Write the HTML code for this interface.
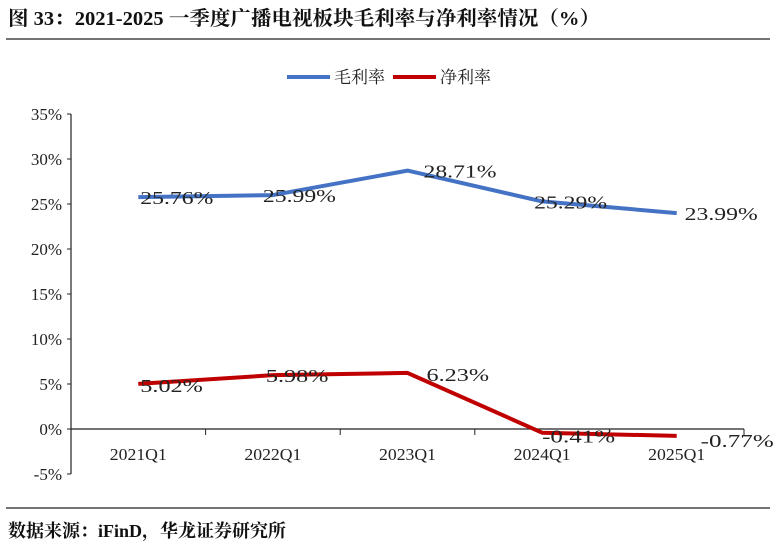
<!DOCTYPE html>
<html><head><meta charset="utf-8"><style>
body{margin:0;background:#fff;width:776px;height:548px;overflow:hidden}
svg{display:block}
.s{font-family:"Liberation Serif","Noto Serif CJK SC",serif}
</style></head><body>
<svg width="776" height="548">
<text class="s" x="8" y="25" font-size="20" font-weight="bold" fill="#111" textLength="592" lengthAdjust="spacingAndGlyphs">图 33：2021-2025 一季度广播电视板块毛利率与净利率情况（%）</text>
<line x1="6" y1="39" x2="770" y2="39" stroke="#222" stroke-width="1.2"/>
<g>
<line x1="287" y1="77" x2="330" y2="77" stroke="#4472C4" stroke-width="4"/>
<text class="s" x="334" y="83" font-size="17" fill="#222">毛利率</text>
<line x1="393" y1="77" x2="436" y2="77" stroke="#C00000" stroke-width="4"/>
<text class="s" x="440" y="83" font-size="17" fill="#222">净利率</text>
</g>
<g id="axes"></g>
<g id="plot"></g>
<line x1="6" y1="508" x2="770" y2="508" stroke="#222" stroke-width="1.2"/>
<text class="s" x="8" y="537" font-size="18" font-weight="bold" fill="#111">数据来源：iFinD，华龙证券研究所</text>
</svg>
<script>
const categories=["2021Q1","2022Q1","2023Q1","2024Q1","2025Q1"];
const grossMargin=[25.76,25.99,28.71,25.29,23.99];
const netMargin=[5.02,5.98,6.23,-0.41,-0.77];
const yTicks=[35,30,25,20,15,10,5,0,-5];
const grossLabelDx=[2,-10,16,-8,8];
const netLabelDx=[2,-7,19,0,24];
const netLabelDy=[1,0,1,3,4];
const NS="http://www.w3.org/2000/svg";
const x0=71,x1=744,yTop=114,yBot=474,yMin=-5,yMax=35;
const bw=(x1-x0)/categories.length;
const xs=i=>x0+bw*(i+0.5);
const ys=v=>yBot-(v-yMin)/(yMax-yMin)*(yBot-yTop);
function mk(t,a,p){const e=document.createElementNS(NS,t);for(const k in a)e.setAttribute(k,a[k]);p.appendChild(e);return e;}
const ax=document.getElementById('axes'),pl=document.getElementById('plot');
let e=mk('line',{x1:x0,y1:yTop,x2:x0,y2:yBot,stroke:'#222','stroke-width':1.2},ax);


yTicks.forEach(v=>{
 let t=mk('line',{x1:x0-4,y1:ys(v),x2:x0,y2:ys(v),stroke:'#222'},ax);
 
 
 let l=mk('text',{x:x0-9,y:ys(v)+6,'text-anchor':'end','font-size':17,fill:'#222',class:'s'},ax);
 l.textContent=v+'%';
 
 
});
e=mk('line',{x1:x0,y1:ys(0),x2:x1,y2:ys(0),stroke:'#222','stroke-width':1.2},ax);


categories.forEach((c,i)=>{
 let t=mk('line',{x1:x0+bw*(i+1),y1:ys(0),x2:x0+bw*(i+1),y2:ys(0)+6,stroke:'#222'},ax);
 
 
 let l=mk('text',{x:xs(i),y:ys(0)+31,'text-anchor':'middle','font-size':17,fill:'#222',class:'s',textLength:57,lengthAdjust:'spacingAndGlyphs'},ax);
 l.textContent=c;
 
 
});
function series(vals,color,name,dxs,dys){
 const p=mk('polyline',{points:vals.map((v,i)=>xs(i)+','+ys(v)).join(' '),fill:'none',stroke:color,'stroke-width':4,'stroke-linejoin':'round'},pl);
 
 
 vals.forEach((v,i)=>{
  const txt=v.toFixed(2)+'%';
  const l=mk('text',{x:xs(i)+dxs[i],y:ys(v)+7+(dys?dys[i]:0),'font-size':18,fill:'#222',class:'s',textLength:(txt.length*10.5+10),lengthAdjust:'spacingAndGlyphs'},pl);
  l.textContent=txt;
  
  
 });
}
series(grossMargin,'#4472C4','gross-margin',grossLabelDx,null);
series(netMargin,'#C00000','net-margin',netLabelDx,netLabelDy);
</script>
</body></html>
